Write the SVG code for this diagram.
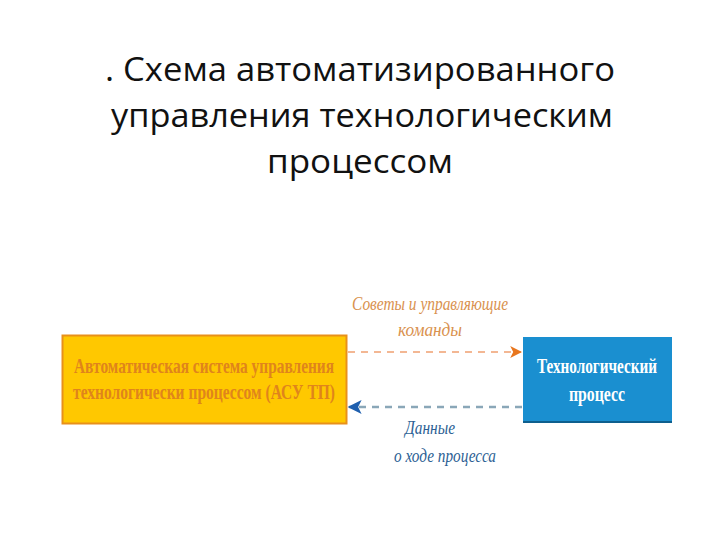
<svg xmlns="http://www.w3.org/2000/svg" width="720" height="540" viewBox="0 0 720 540">
<style>
.title{font-family:"Open Sans","Noto Sans","DejaVu Sans",sans-serif;font-size:33px;fill:#111;text-anchor:middle}
.nt{font-family:"Liberation Serif","DejaVu Serif",serif;font-weight:bold;font-size:21px;text-anchor:middle}
.lbl{font-family:"Liberation Serif","DejaVu Serif",serif;font-style:italic;font-size:19px;text-anchor:middle}
</style>
<defs>
<marker id="ao" viewBox="0 0 10 10" refX="9" refY="5" markerWidth="12" markerHeight="12" markerUnits="userSpaceOnUse" orient="auto"><path d="M0,0 L10,5 L0,10 L2.5,5 Z" fill="#e8761e"/></marker>
<marker id="ab" viewBox="0 0 10 10" refX="9" refY="5" markerWidth="14" markerHeight="14" markerUnits="userSpaceOnUse" orient="auto"><path d="M0,0 L10,5 L0,10 L2.5,5 Z" fill="#1f5fae"/></marker>
</defs>
<rect width="720" height="540" fill="#fff"/>
<text class="title" x="360" y="81" textLength="510" lengthAdjust="spacingAndGlyphs">. Схема автоматизированного</text>
<text class="title" x="362" y="127" textLength="502" lengthAdjust="spacingAndGlyphs">управления технологическим</text>
<text class="title" x="360" y="173" textLength="186" lengthAdjust="spacingAndGlyphs">процессом</text>
<g id="connectors">
<line x1="348" y1="352" x2="521" y2="352" stroke="#f0a070" stroke-width="1.6" stroke-dasharray="7,6" marker-end="url(#ao)"/>
<line x1="522" y1="407" x2="349" y2="407" stroke="#8aa7b8" stroke-width="2.5" stroke-dasharray="7,6" marker-end="url(#ab)"/>
<text class="lbl" x="430" y="310" fill="#d9914e" textLength="156" lengthAdjust="spacingAndGlyphs">Советы и управляющие</text>
<text class="lbl" x="430" y="336" fill="#d9914e" textLength="64" lengthAdjust="spacingAndGlyphs">команды</text>
<text class="lbl" x="430" y="434" fill="#2d5f94" textLength="50" lengthAdjust="spacingAndGlyphs">Данные</text>
<text class="lbl" x="445" y="462" fill="#2d5f94" textLength="102" lengthAdjust="spacingAndGlyphs">о ходе процесса</text>
</g>
<g id="asu">
<rect x="62.5" y="335.5" width="284" height="88" fill="#ffc800" stroke="#e8901a" stroke-width="2"/>
<text class="nt" x="204" y="373" fill="#e0841c" textLength="260" lengthAdjust="spacingAndGlyphs">Автоматическая система управления</text>
<text class="nt" x="204" y="399" fill="#e0841c" textLength="262" lengthAdjust="spacingAndGlyphs">технологически процессом (АСУ ТП)</text>
</g>
<g id="process">
<rect x="523" y="337" width="149" height="86" fill="#1a8fd0"/>
<rect x="523" y="421" width="149" height="2" fill="#0e5f8e"/>
<text class="nt" x="597" y="373" fill="#fff" textLength="120" lengthAdjust="spacingAndGlyphs">Технологический</text>
<text class="nt" x="597" y="401" fill="#fff" textLength="56" lengthAdjust="spacingAndGlyphs">процесс</text>
</g>
</svg>
